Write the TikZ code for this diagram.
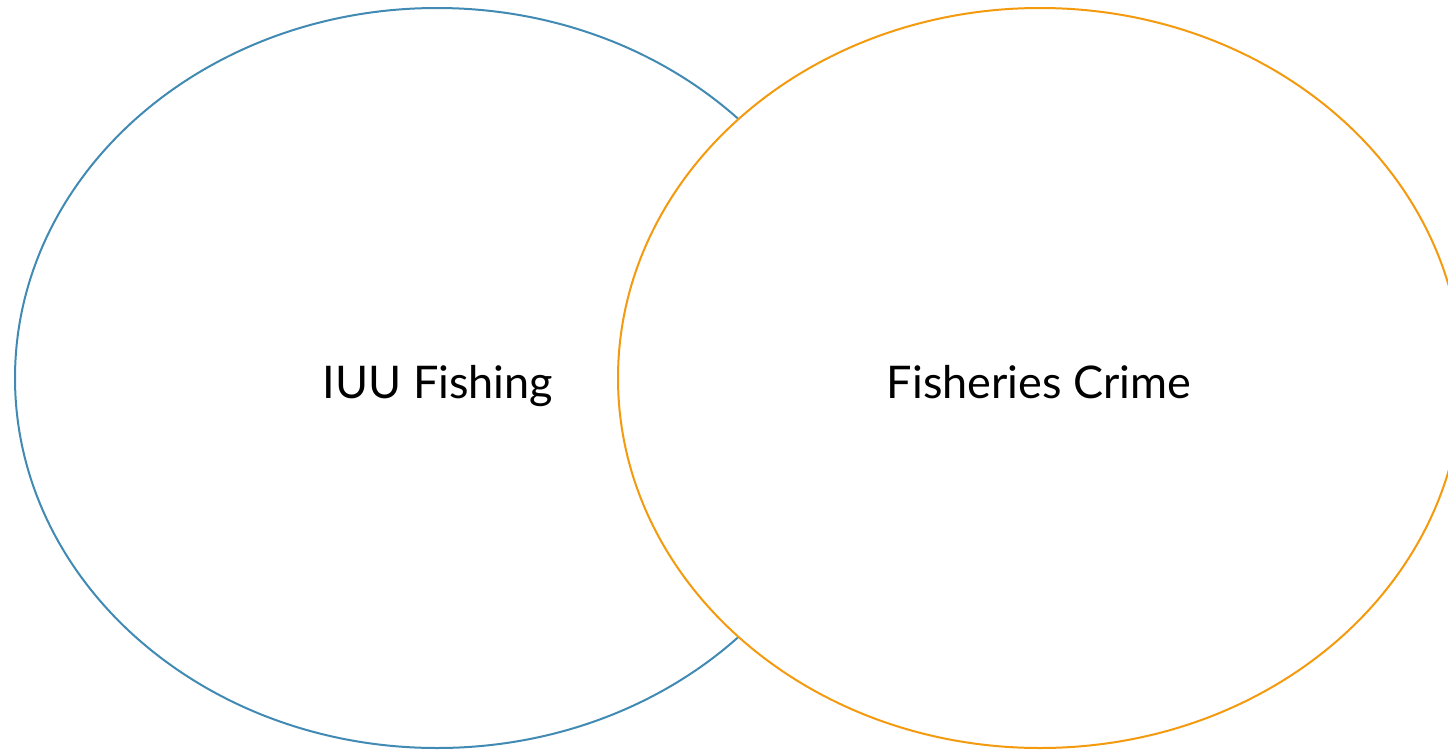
\documentclass[tikz,border=0pt]{standalone}
\usepackage{fontspec}
\setmainfont{Lato}
\definecolor{vblue}{HTML}{418AB3}
\definecolor{vorange}{HTML}{F39A0E}
\begin{document}
\begin{tikzpicture}[x=1pt,y=-1pt,
  circ/.style={line width=2pt},
  lbl/.style={font=\fontsize{45}{52}\selectfont, text=black, anchor=base, inner sep=0pt}]
\useasboundingbox[fill=white] (0,0) rectangle (1448,750);
\draw[circ, vblue] (437,378) ellipse [x radius=422, y radius=370];
\draw[circ, vorange, fill=white] (1040,378) ellipse [x radius=422, y radius=370];
\node[lbl] (iuu) at (438,398) {IUU Fishing};
\node[lbl] (fc) at (1039,398) {Fisheries Crime};
\end{tikzpicture}
\end{document}
